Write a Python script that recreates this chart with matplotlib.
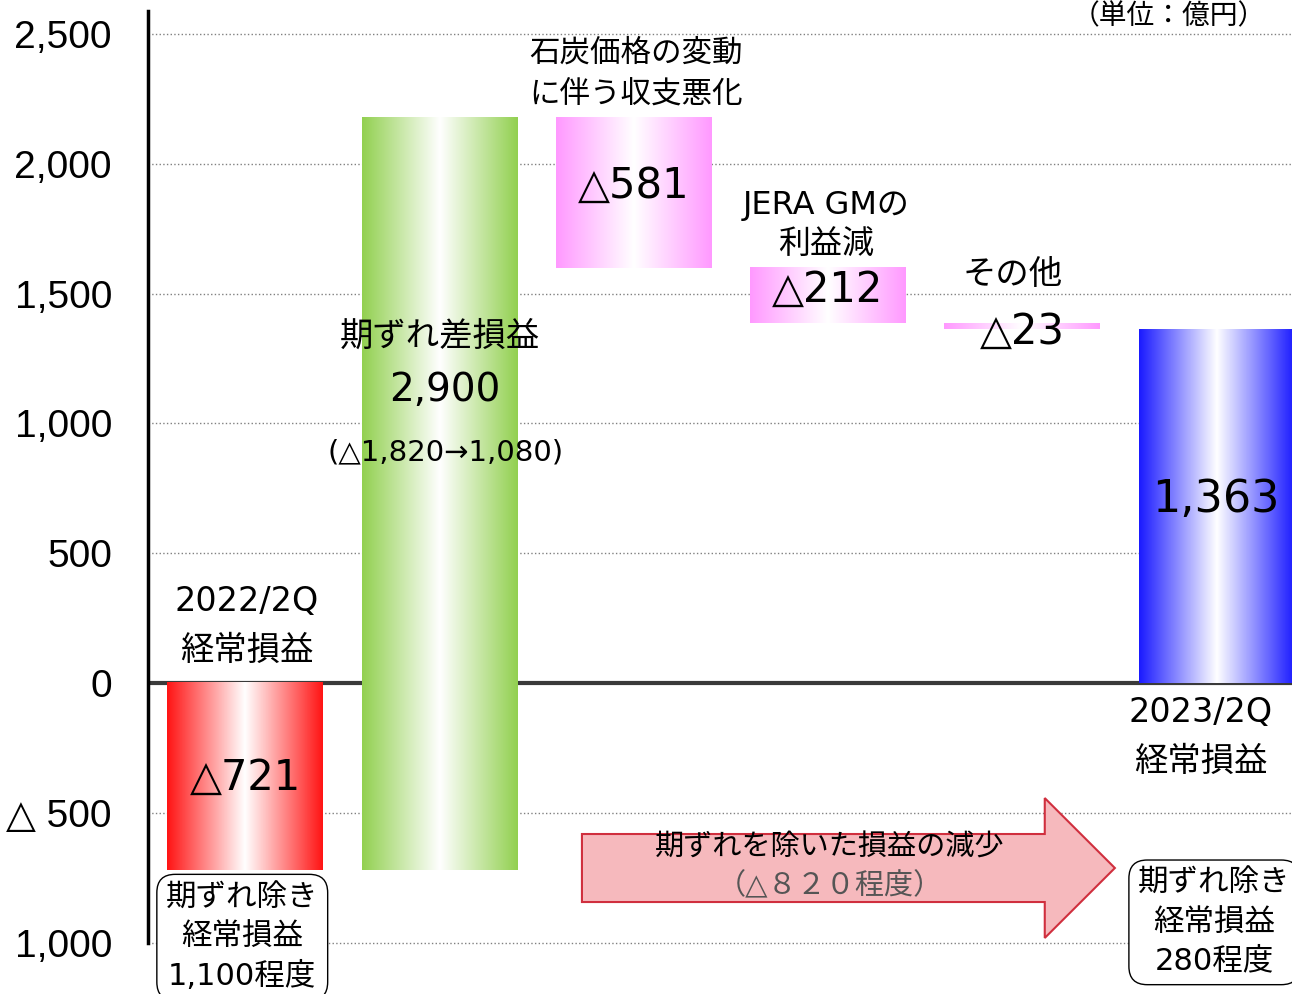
import numpy as np
import matplotlib
matplotlib.use('Agg')
import matplotlib.pyplot as plt
from matplotlib.colors import LinearSegmentedColormap
from matplotlib.patches import FancyArrow

plt.rcParams['font.family'] = ['DejaVu Sans', 'Noto Sans CJK JP']

# data (億円)
steps = ['2022/2Q', '期ずれ差損益', '石炭価格', 'JERA GM', 'その他', '2023/2Q']
values = [-721, 2900, -581, -212, -23, 1363]
is_total = [True, False, False, False, False, True]
bar_colors = ['#ff1414', '#92d050', '#ff99ff', '#ff99ff', '#ff99ff', '#1a1aff']
value_labels = ['△721', '2,900', '△581', '△212', '△23', '1,363']

yticks = [-1000, -500, 0, 500, 1000, 1500, 2000, 2500]
ytick_labels = ['1,000', '△ 500', '0', '500', '1,000', '1,500', '2,000', '2,500']

# waterfall bottoms
bottoms = []
run = 0
for v, tot in zip(values, is_total):
    if tot and run != 0:
        bottoms.append(0)
        run = v
    else:
        bottoms.append(run)
        run += v

fig = plt.figure(figsize=(12.92, 9.94), dpi=100)
ax = fig.add_axes([0.1146, 0.0491, 0.8854, 0.9402])

x = np.arange(len(steps))
bars = ax.bar(x, values, bottom=bottoms, width=0.8, color='none', zorder=3)

# gradient fill: colour at edges, white in the middle
grad = np.linspace(0, 1, 256).reshape(1, -1)
for b, c in zip(bars, bar_colors):
    cmap = LinearSegmentedColormap.from_list('g', [(0, c), (0.5, 'white'), (1, c)])
    x0 = b.get_x()
    y0 = b.get_y()
    y1 = y0 + b.get_height()
    ax.imshow(grad, cmap=cmap, aspect='auto', zorder=3, interpolation='bilinear',
              extent=[x0, x0 + b.get_width(), min(y0, y1), max(y0, y1)])

ax.axhline(0, color='#3a3a3a', lw=3, zorder=2)
ax.set_xlim(-0.5, 5.39)
ax.set_ylim(-1010, 2590)
ax.set_yticks(yticks)
ax.set_yticklabels(ytick_labels, fontsize=28, family=['Liberation Sans', 'DejaVu Sans'])
ax.set_xticks([])
ax.tick_params(axis='y', length=0, pad=26)
ax.grid(axis='y', ls=':', color='#808080', lw=1, zorder=0)
for s in ['top', 'right', 'bottom']:
    ax.spines[s].set_visible(False)
ax.spines['left'].set_linewidth(2.5)
ax.spines['left'].set_color('black')
ax.spines['left'].set_bounds(-1000, 2590)

# value labels
ax.text(0, -366, value_labels[0], ha='center', va='center', fontsize=30, zorder=5)
ax.text(1.03, 1129, value_labels[1], ha='center', va='center', fontsize=28, zorder=5)
ax.text(2.0, 1914, value_labels[2], ha='center', va='center', fontsize=30, zorder=5)
ax.text(3.0, 1514, value_labels[3], ha='center', va='center', fontsize=30, zorder=5)
ax.text(4.0, 1352, value_labels[4], ha='center', va='center', fontsize=30, zorder=5)
ax.text(5.0, 705, value_labels[5], ha='center', va='center', fontsize=32, zorder=5)

# category labels
ax.text(0.01, 220, '2022/2Q\n経常損益', ha='center', va='center', fontsize=24,
        linespacing=1.62, zorder=5)
ax.text(1.0, 1337, '期ずれ差損益', ha='center', va='center', fontsize=24, zorder=5)
ax.text(1.03, 890, '(△1,820→1,080)', ha='center', va='center', fontsize=21, zorder=5)
ax.text(2.01, 2348, '石炭価格の変動\nに伴う収支悪化', ha='center', va='center',
        fontsize=22, linespacing=1.5, zorder=5, clip_on=False)
ax.text(2.99, 1764, 'JERA GMの\n利益減', ha='center', va='center', fontsize=23,
        linespacing=1.38, zorder=5)
ax.text(3.95, 1575, 'その他', ha='center', va='center', fontsize=24, zorder=5)
ax.text(4.92, -208, '2023/2Q\n経常損益', ha='center', va='center', fontsize=24,
        linespacing=1.62, zorder=5)

# arrow: decrease excluding timing differences
arrow = FancyArrow(1.734, -712.7, 2.744, 0, width=262, head_width=539,
                   head_length=0.361, length_includes_head=True,
                   fc='#f6b9bd', ec='#d02f3e', lw=1.5, zorder=4)
ax.add_patch(arrow)
ax.text(3.01, -636, '期ずれを除いた損益の減少', ha='center', va='center', fontsize=21, zorder=5)
ax.text(3.01, -782, '（△８２０程度）', ha='center', va='center', fontsize=21,
        color='#555555', zorder=5)

# boxes
box = dict(boxstyle='round,pad=0.3,rounding_size=0.6', fc='white', ec='black', lw=1)
ax.text(-0.015, -980, '期ずれ除き\n経常損益\n1,100程度', ha='center', va='center',
        fontsize=22, linespacing=1.42, bbox=box, zorder=5, clip_on=False)
ax.text(4.99, -922, '期ずれ除き\n経常損益\n280程度', ha='center', va='center',
        fontsize=22, linespacing=1.42, bbox=box, zorder=5, clip_on=False)

fig.text(0.905, 0.998, '（単位：億円）', ha='center', va='top', fontsize=20)

fig.savefig('out.png', dpi=100)
